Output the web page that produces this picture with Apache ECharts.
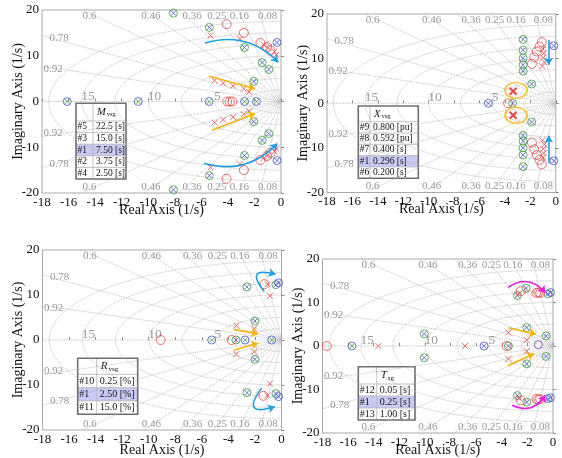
<!DOCTYPE html>
<html>
<head>
<meta charset="utf-8">
<script src="https://cdn.jsdelivr.net/npm/echarts@6/dist/echarts.min.js"></script>
<style>
html,body{margin:0;padding:0;background:#fff;}
#chart{width:562px;height:458px;}
</style>
</head>
<body>
<div id="chart"></div>
<script>
// ---- s-plane grid definition ----
const dampingRatios = [0.08, 0.16, 0.25, 0.36, 0.46, 0.6, 0.78, 0.92];
const naturalFreqs = [2.5, 5, 7.5, 10, 12.5, 15, 17.5];
const freqLabels = [5, 10, 15];
const xLimits = [-18, 0];
const yLimits = [-20, 20];

// ---- Panel 1: inertia M_vsg ----
const mGreenPoles = [[-8.1,19.3],[-5.4,16.2],[-2.75,11.8],[-1.42,8.5],[-0.92,7.0],[-2.05,4.4],
  [-2.05,-4.4],[-0.92,-7.0],[-1.42,-8.5],[-2.75,-11.8],[-5.4,-16.2],[-8.1,-19.3]];
const mBluePoles = [[-0.3,12.9],[-0.3,-12.9]];
const mRealPoles = [[-16.1,0],[-10.75,0],[-5.42,0],[-2.75,0],[-1.85,0]];
const mRedCross = [[-5.3,14.4],[-3.1,13.7],[-1.3,12.4],[-0.95,11.7],[-0.5,10.9],[-0.35,10.2],
  [-5.0,4.6],[-4.35,4.0],[-3.6,3.4],[-2.8,2.8],[-2.4,2.1],
  [-2.4,-2.1],[-2.8,-2.8],[-3.6,-3.4],[-4.35,-4.0],[-5.0,-4.6],
  [-0.35,-10.2],[-0.5,-10.9],[-0.95,-11.7],[-1.3,-12.4],[-3.1,-13.7],[-5.3,-14.4]];
const mRedRing = [[-4.1,16.9],[-2.8,15.0],[-1.55,12.8],[-1.05,11.9],[-0.8,11.2],
  [-4.05,0],[-3.85,0],[-3.65,0],
  [-0.8,-11.2],[-1.05,-11.9],[-1.55,-12.8],[-2.8,-15.0],[-4.1,-16.9]];
const mCyanArrows = [[[-5.73,12.8],[-0.2,8.6]], [[-5.8,-13.5],[-0.28,-9.2]]];
const mOrangeArrows = [[[-5.4,5.5],[-1.95,2.8]], [[-5.2,-6.3],[-1.95,-2.6]]];
const mCaseIds = ['#5','#3','#1','#2','#4'];
const mCaseVals = ['22.5 [s]','15.0 [s]','7.50 [s]','3.75 [s]','2.50 [s]'];

// ---- Panel 2: reactance X_vsg ----
const xGreenPoles = [[-2.57,14.3],[-2.57,11.9],[-2.57,10.1],[-2.57,8.6],[-2.57,7.2],[-1.9,4.3],[-3.4,0],
  [-1.9,-4.2],[-2.57,-7.2],[-2.57,-8.5],[-2.57,-10.0],[-2.57,-11.6],[-2.57,-14.2]];
const xBluePoles = [[-0.15,12.9],[-5.3,0],[-0.15,-12.9]];
const xRedRing = [[-1.1,13.7],[-1.28,12.7],[-1.49,11.6],[-1.7,10.3],[-1.88,8.8],[-3.75,0],
  [-1.88,-8.8],[-1.7,-10.3],[-1.49,-11.6],[-1.28,-12.7],[-1.1,-13.7]];
const xRedCross = [[-1.0,12.2],[-0.95,11.2],[-1.0,10.2],[-0.9,9.2],[-1.05,8.3],
  [-1.05,-8.3],[-0.9,-9.2],[-1.0,-10.2],[-0.95,-11.2],[-1.0,-12.2]];
const xUnstablePair = [[-3.35,2.7],[-3.35,-2.7]];
const xHighlight = [[-3.12,2.9],[-3.12,-2.7]];
const xCyanArrows = [[[-0.55,14.2],[-0.55,8.6]], [[-0.55,-13.5],[-0.55,-7.3]]];
const xCaseIds = ['#9','#8','#7','#1','#6'];
const xCaseVals = ['0.800 [pu]','0.592 [pu]','0.400 [s]','0.296 [s]','0.200 [s]'];

// ---- Panel 3: resistance R_vsg ----
const rGreenPoles = [[-2.6,11.8],[-0.42,12.3],[-2.0,4.2],[-3.43,0],[-2.0,-4.3],[-2.6,-11.7],[-0.42,-11.9]];
const rBluePoles = [[-0.22,12.7],[-0.22,-12.6]];
const rRealPoles = [[-5.26,0],[-2.75,0],[-0.74,0]];
const rRedRing = [[-1.3,12.4],[-9.1,0],[-3.75,0],[-1.37,-12.4]];
const rRedCross = [[-1.05,12.4],[-0.87,9.8],[-3.4,3.2],[-2.05,2.5],[-2.05,-2.6],[-3.4,-3.1],[-0.87,-9.7],[-1.05,-12.3]];
const rCyanArrows = [[[-1.3,10.8],[-0.45,14.6]], [[-1.5,-10.7],[-0.5,-14.85]]];
const rOrangeArrows = [[[-3.6,2.3],[-1.75,1.4]], [[-3.6,-2.3],[-1.75,-0.7]]];
const rCaseIds = ['#10','#1','#11'];
const rCaseVals = ['0.25 [%]','2.50 [%]','15.0 [%]'];

// ---- Panel 4: time constant T_sg ----
const tGreenPoles = [[-10.05,2.8],[-2.05,4.25],[-0.54,2.3],[-3.48,0],[-0.54,-2.4],[-2.05,-4.1],[-10.05,-2.7],
  [-2.78,11.6],[-2.1,13.3],[-0.4,12.0],[-2.78,-11.4],[-2.05,-12.9],[-0.4,-12.1]];
const tBluePoles = [[-0.2,12.3],[-5.38,0],[-0.2,-11.9]];
const tRealPoles = [[-15.7,0]];
const tMixedPole = [[-1.14,0.3]];
const tRedRing = [[-17.67,0],[-3.62,0],[-2.52,12.6],[-1.3,12.2],[-1.15,12.3],[-1.0,12.2],
  [-2.52,-12.5],[-1.3,-12.2],[-1.15,-12.3],[-1.0,-12.2]];
const tRedCross = [[-13.64,0],[-6.87,0],[-3.48,3.1],[-2.05,1.35],[-2.05,-1.2],[-3.48,-2.95],[-2.65,12.1],[-2.65,-12.0]];
const tMagentaArrows = [[[-3.5,13.5],[-0.6,12.2]], [[-3.2,-13.6],[-0.6,-11.3]]];
const tOrangeArrows = [[[-3.5,4.2],[-1.32,2.7]], [[-3.5,-4.5],[-1.48,-1.8]]];
const tCaseIds = ['#12','#1','#13'];
const tCaseVals = ['0.05 [s]','0.25 [s]','1.00 [s]'];

// ---- styling ----
const SERIF = '"Liberation Serif","Times New Roman",serif';
const C = {
  green: '#3a9d3a', blue: '#4656d0', red: '#ea4a46', cyan: '#1d9fe2',
  orange: '#f6b40c', magenta: '#ec1fe0', purple: '#7a3cc4',
  grid: '#b8b8b8', gridText: '#7e7e7e', frame: '#a8a8a8', hiRow: '#c9c9f6'
};
const CROSS = 'path://M0,0L10,10M10,0L0,10';
// horizontal nudge (px) of each damping label from the end of its ray
const dampLabelShift = {0.08: 8.5, 0.16: 2, 0.25: 5, 0.36: 14, 0.46: 8, 0.6: 8, 0.78: 8, 0.92: 2};

const panels = [
  { grid: {left: 42, top: 10, width: 239, height: 183}, xNameGap: 10 },
  { grid: {left: 327, top: 14, width: 232, height: 178.5}, xNameGap: 10 },
  { grid: {left: 42.5, top: 250, width: 239, height: 181}, xNameGap: 13 },
  { grid: {left: 322.5, top: 259, width: 230.5, height: 176}, xNameGap: 10 }
];

function gridLines() {
  const lines = [];
  dampingRatios.forEach(z => {
    const s = Math.sqrt(1 - z * z);
    const t = Math.min(-xLimits[0] / z, yLimits[1] / s);
    lines.push({coords: [[0, 0], [-z * t, s * t]]});
    lines.push({coords: [[0, 0], [-z * t, -s * t]]});
  });
  lines.push({coords: [[xLimits[0], 0], [0, 0]]});
  naturalFreqs.forEach(w => {
    const pts = [];
    for (let a = -90; a <= 90; a += 3) {
      const r = a * Math.PI / 180;
      pts.push([-w * Math.cos(r), w * Math.sin(r)]);
    }
    lines.push({coords: pts});
  });
  return lines;
}

function gridLabels() {
  const items = [];
  dampingRatios.forEach(z => {
    const s = Math.sqrt(1 - z * z);
    const xTop = -yLimits[1] * z / s;
    const name = String(z);
    const dx = dampLabelShift[z];
    if (xTop >= xLimits[0]) {
      items.push({value: [xTop, yLimits[1]], name, label: {align: 'center', verticalAlign: 'top', offset: [dx, 1]}});
      items.push({value: [xTop, yLimits[0]], name, label: {align: 'center', verticalAlign: 'bottom', offset: [dx, 0]}});
    } else {
      const yEdge = -xLimits[0] * s / z;
      items.push({value: [xLimits[0], yEdge], name, label: {align: 'left', verticalAlign: 'middle', offset: [dx, 3]}});
      items.push({value: [xLimits[0], -yEdge], name, label: {align: 'left', verticalAlign: 'middle', offset: [dx, -3]}});
    }
  });
  freqLabels.forEach(w => {
    items.push({value: [-w, 0], name: String(w), label: {align: 'left', verticalAlign: 'bottom', fontSize: 13.5, offset: [0, 2]}});
  });
  return items;
}

function base(i) { return {xAxisIndex: i, yAxisIndex: i, silent: true, animation: false}; }

function ring(i, data, color, size, width) {
  return Object.assign(base(i), {type: 'scatter', data, symbol: 'circle', symbolSize: size, z: 5,
    itemStyle: {color: 'rgba(0,0,0,0)', borderColor: color, borderWidth: width}});
}
function cross(i, data, color, size, width) {
  return Object.assign(base(i), {type: 'scatter', data, symbol: CROSS, symbolSize: size, z: 6,
    itemStyle: {color: 'rgba(0,0,0,0)', borderColor: color, borderWidth: width}});
}
function arrows(i, segs, color, bend) {
  return Object.assign(base(i), {type: 'lines', coordinateSystem: 'cartesian2d', z: 8,
    symbol: ['none', 'arrow'], symbolSize: 7,
    lineStyle: {color, width: 1.6, opacity: 1},
    data: segs.map((c, k) => ({coords: c, lineStyle: {curveness: bend[k]}}))});
}

function gridSeries(i) {
  return [
    Object.assign(base(i), {type: 'lines', coordinateSystem: 'cartesian2d', polyline: true, z: 1,
      lineStyle: {color: C.grid, width: 0.9, type: 'dotted', opacity: 1}, data: gridLines()}),
    Object.assign(base(i), {type: 'scatter', symbolSize: 1, z: 2, itemStyle: {color: 'rgba(0,0,0,0)'},
      label: {show: true, position: [0, 0], formatter: '{b}', color: C.gridText, fontFamily: SERIF, fontSize: 11},
      data: gridLabels()})
  ];
}

const series = [];
for (let i = 0; i < 4; i++) series.push(...gridSeries(i));

// Panel 1
series.push(ring(0, mGreenPoles, C.green, 8, 1), cross(0, mGreenPoles, C.blue, 5, 1),
  ring(0, mBluePoles, C.blue, 8, 1), cross(0, mBluePoles, C.blue, 5, 1),
  ring(0, mRealPoles, C.blue, 8, 1), cross(0, mRealPoles, C.green, 5, 1),
  ring(0, mRedRing, C.red, 9, 1), cross(0, mRedCross, C.red, 6, 1),
  arrows(0, mCyanArrows, C.cyan, [0.3, -0.3]), arrows(0, mOrangeArrows, C.orange, [0, 0]));

// Panel 2
series.push(ring(1, xGreenPoles, C.green, 8, 1), cross(1, xGreenPoles, C.blue, 5, 1),
  ring(1, xBluePoles, C.blue, 8, 1), cross(1, xBluePoles, C.blue, 5, 1),
  ring(1, xRedRing, C.red, 9, 1), cross(1, xRedCross, C.red, 6, 1),
  cross(1, xUnstablePair, '#e8161a', 7, 2),
  ring(1, xHighlight, C.orange, [22, 16], 1.6),
  arrows(1, xCyanArrows, C.cyan, [0, 0]));

// Panel 3
series.push(ring(2, rGreenPoles, C.green, 8, 1), cross(2, rGreenPoles, C.blue, 5, 1),
  ring(2, rBluePoles, C.blue, 8, 1), cross(2, rBluePoles, C.blue, 5, 1),
  ring(2, rRealPoles, C.blue, 8, 1), cross(2, rRealPoles, C.green, 5, 1),
  ring(2, rRedRing, C.red, 9, 1), cross(2, rRedCross, C.red, 6, 1),
  arrows(2, rCyanArrows, C.cyan, [1.5, -1.5]), arrows(2, rOrangeArrows, C.orange, [0, 0]));

// Panel 4
series.push(ring(3, tGreenPoles, C.green, 8, 1), cross(3, tGreenPoles, C.blue, 5, 1),
  ring(3, tBluePoles, C.blue, 8, 1), cross(3, tBluePoles, C.blue, 5, 1),
  ring(3, tRealPoles, C.blue, 8, 1), cross(3, tRealPoles, C.green, 5, 1),
  ring(3, tMixedPole, C.purple, 8, 1),
  ring(3, tRedRing, C.red, 9, 1), cross(3, tRedCross, C.red, 6, 1),
  arrows(3, tMagentaArrows, C.magenta, [0.45, -0.45]), arrows(3, tOrangeArrows, C.orange, [0, 0]));

// ---- parameter tables ----
const tables = [
  {sym: 'M', sub: 'vsg', ids: mCaseIds, vals: mCaseVals, box: {x0: 76, x1: 126, y0: 103.3, head: 17.7, row: 11.6, split: 93}, fs: 9.5},
  {sym: 'X', sub: 'vsg', ids: xCaseIds, vals: xCaseVals, box: {x0: 358.3, x1: 418.3, y0: 106, head: 15.7, row: 11.3, split: 370}, fs: 9.5},
  {sym: 'R', sub: 'vsg', ids: rCaseIds, vals: rCaseVals, box: {x0: 77.7, x1: 137.7, y0: 358.3, head: 16, row: 13.3, split: 96.7}, fs: 10},
  {sym: 'T', sub: 'sg', ids: tCaseIds, vals: tCaseVals, box: {x0: 358.3, x1: 415, y0: 366.7, head: 17.3, row: 12, split: 376.7}, fs: 10}
];

function tableElements(t) {
  const b = t.box, n = t.ids.length;
  const y1 = b.y0 + b.head + b.row * n;
  const els = [];
  els.push({type: 'rect', shape: {x: b.x0, y: b.y0, width: b.x1 - b.x0, height: y1 - b.y0}, style: {fill: '#fff'}});
  const hi = t.ids.indexOf('#1');
  els.push({type: 'rect', shape: {x: b.x0, y: b.y0 + b.head + b.row * hi, width: b.x1 - b.x0, height: b.row}, style: {fill: C.hiRow}});
  for (let r = 0; r < n; r++) {
    const y = b.y0 + b.head + b.row * r;
    els.push({type: 'line', shape: {x1: b.x0, y1: y, x2: b.x1, y2: y}, style: {stroke: '#b4b4b4', lineWidth: 0.8}});
  }
  els.push({type: 'line', shape: {x1: b.split, y1: b.y0, x2: b.split, y2: y1}, style: {stroke: '#b4b4b4', lineWidth: 0.8}});
  els.push({type: 'rect', shape: {x: b.x0, y: b.y0, width: b.x1 - b.x0, height: y1 - b.y0}, style: {fill: 'none', stroke: '#6e6e6e', lineWidth: 1.6}});
  els.push({type: 'text', style: {
    text: '{i|' + t.sym + '}{s|' + t.sub + '}', x: b.split + 4, y: b.y0 + b.head / 2,
    align: 'left', verticalAlign: 'middle', textAlign: 'left', textVerticalAlign: 'middle',
    rich: {i: {fontFamily: SERIF, fontStyle: 'italic', fontSize: t.fs + 1, fill: '#111', color: '#111'},
           s: {fontFamily: SERIF, fontSize: t.fs - 3, fill: '#111', color: '#111', padding: [5, 0, 0, 1]}}
  }});
  for (let r = 0; r < n; r++) {
    const yc = b.y0 + b.head + b.row * (r + 0.5);
    els.push({type: 'text', style: {text: t.ids[r], x: b.x0 + 1.5, y: yc, font: t.fs + 'px ' + SERIF, fill: '#111',
      align: 'left', verticalAlign: 'middle', textAlign: 'left', textVerticalAlign: 'middle'}});
    els.push({type: 'text', style: {text: t.vals[r], x: b.split + 3, y: yc, font: t.fs + 'px ' + SERIF, fill: '#111',
      align: 'left', verticalAlign: 'middle', textAlign: 'left', textVerticalAlign: 'middle'}});
  }
  return els;
}

const graphic = [];
tables.forEach(t => graphic.push({type: 'group', z: 100, silent: true, children: tableElements(t)}));

const axisText = {fontFamily: SERIF, fontSize: 13, color: '#111'};
const option = {
  animation: false,
  backgroundColor: '#fff',
  grid: panels.map(p => Object.assign({show: true, borderColor: C.frame, borderWidth: 1, backgroundColor: 'rgba(0,0,0,0)'}, p.grid)),
  xAxis: panels.map((p, i) => ({
    gridIndex: i, type: 'value', min: xLimits[0], max: xLimits[1], interval: 2,
    axisLine: {show: false}, splitLine: {show: false},
    axisTick: {show: true, inside: true, length: 3, lineStyle: {color: '#888'}},
    axisLabel: Object.assign({margin: 3}, axisText),
    name: 'Real Axis (1/s)', nameLocation: 'middle', nameGap: p.xNameGap, nameMoveOverlap: false,
    nameTextStyle: Object.assign({}, axisText, {fontSize: 14})
  })),
  yAxis: panels.map((p, i) => ({
    gridIndex: i, type: 'value', min: yLimits[0], max: yLimits[1], interval: 10,
    axisLine: {show: false}, splitLine: {show: false},
    axisTick: {show: true, inside: true, length: 3, lineStyle: {color: '#888'}},
    axisLabel: Object.assign({margin: 3}, axisText),
    name: 'Imaginary Axis (1/s)', nameLocation: 'middle', nameGap: 17, nameMoveOverlap: false,
    nameTextStyle: Object.assign({}, axisText, {fontSize: 14})
  })),
  series,
  graphic
};

const chart = echarts.init(document.getElementById('chart'), null, {renderer: 'canvas'});
chart.setOption(option);
</script>
</body>
</html>
